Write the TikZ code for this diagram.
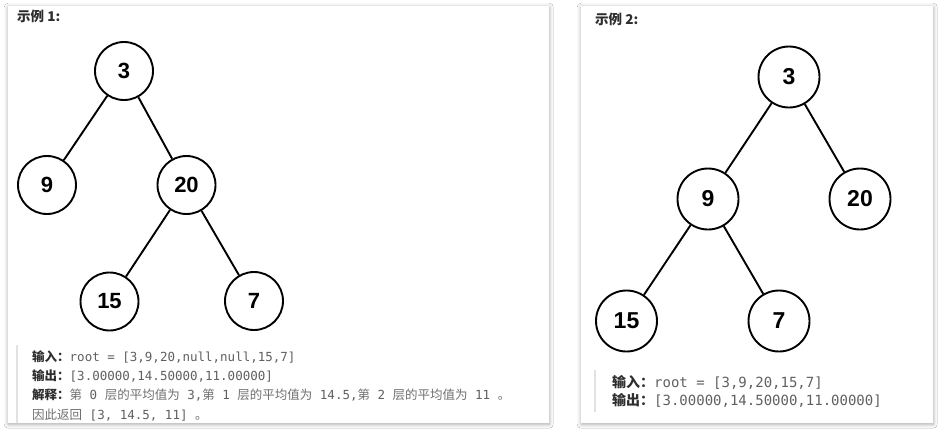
\documentclass[tikz,border=0pt]{standalone}
\usepackage{fontspec}
\setmainfont{Liberation Sans}
\newfontfamily\cjk{Noto Sans CJK SC}
\newfontfamily\mono{DejaVu Sans Mono}
\usetikzlibrary{shadows.blur}
\definecolor{codegray}{HTML}{606060}
\definecolor{txtgray}{HTML}{707070}
\definecolor{labdark}{HTML}{2E2E2E}
\definecolor{bargray}{HTML}{E2E2E2}
\newcommand{\mm}[1]{{\mono\color{codegray}#1}}
\begin{document}
\begin{tikzpicture}[x=1pt,y=-1pt,
  panel/.style={fill=white,draw=none,blur shadow={shadow xshift=0pt,shadow yshift=-1pt,shadow blur radius=4pt,shadow opacity=35}},
  tnodeL/.style={circle,draw=black,line width=1.9pt,minimum size=58pt,inner sep=0pt,font=\fontsize{22}{22}\selectfont\bfseries},
  tnodeR/.style={circle,draw=black,line width=1.9pt,minimum size=61pt,inner sep=0pt,font=\fontsize{23}{23}\selectfont\bfseries},
  tedge/.style={line width=1.9pt,draw=black},
  txtL/.style={anchor=base west,inner sep=0pt,font=\fontsize{12.5}{12.5}\selectfont},
  txtR/.style={anchor=base west,inner sep=0pt,font=\fontsize{14}{14}\selectfont},
  title/.style={anchor=base west,inner sep=0pt,text=labdark},
  bar/.style={draw=bargray,line width=2pt}
]
\useasboundingbox (0,0) rectangle (944,434);
\fill[white] (0,0) rectangle (944,434);
% panels
\node[panel,minimum width=541pt,minimum height=417pt,inner sep=0pt,anchor=north west] (P1) at (8,6) {};
\node[panel,minimum width=352pt,minimum height=417pt,inner sep=0pt,anchor=north west] (P2) at (581,6) {};
% titles
\node[title,font=\cjk\bfseries\fontsize{13.5}{13.5}\selectfont] (T1) at (17,21) {示例 1:};
\node[title,font=\cjk\bfseries\fontsize{13.5}{13.5}\selectfont] (T2) at (595,24) {示例 2:};
% left tree
\node[tnodeL] (L3) at (124,71) {3};
\node[tnodeL] (L9) at (47,185) {9};
\node[tnodeL] (L20) at (186.5,185) {20};
\node[tnodeL] (L15) at (109.5,301.5) {15};
\node[tnodeL] (L7) at (254,301) {7};
\draw[tedge] (L3) -- (L9);
\draw[tedge] (L3) -- (L20);
\draw[tedge] (L20) -- (L15);
\draw[tedge] (L20) -- (L7);
% right tree
\node[tnodeR] (R3) at (789,77) {3};
\node[tnodeR] (R9) at (708,199) {9};
\node[tnodeR] (R20) at (860,199) {20};
\node[tnodeR] (R15) at (626.5,321) {15};
\node[tnodeR] (R7) at (779,321) {7};
\draw[tedge] (R3) -- (R9);
\draw[tedge] (R3) -- (R20);
\draw[tedge] (R9) -- (R15);
\draw[tedge] (R9) -- (R7);
% left text
\coordinate (B1a) at (17,345);
\coordinate (B1b) at (17,423);
\draw[bar] (B1a) -- (B1b);
\node[txtL] (A1) at (32,361) {{\cjk\bfseries\color{labdark}输入：}\mm{root = [3,9,20,null,null,15,7]}};
\node[txtL] (A2) at (32,380.3) {{\cjk\bfseries\color{labdark}输出：}\mm{[3.00000,14.50000,11.00000]}};
\node[txtL] (A3) at (32,399.6) {{\cjk\bfseries\color{labdark}解释：}{\cjk\color{txtgray}第}\mm{\ 0\ }{\cjk\color{txtgray}层的平均值为}\mm{\ 3,}{\cjk\color{txtgray}第}\mm{\ 1\ }{\cjk\color{txtgray}层的平均值为}\mm{\ 14.5,}{\cjk\color{txtgray}第}\mm{\ 2\ }{\cjk\color{txtgray}层的平均值为}\mm{\ 11\ }{\cjk\color{txtgray}。}};
\node[txtL] (A4) at (32,419) {{\cjk\color{txtgray}因此返回}\mm{\ [3, 14.5, 11]\ }{\cjk\color{txtgray}。}};
% right text
\coordinate (B2a) at (595,370);
\coordinate (B2b) at (595,412);
\draw[bar] (B2a) -- (B2b);
\node[txtR] (C1) at (612,387) {{\cjk\bfseries\color{labdark}输入：}\mm{root = [3,9,20,15,7]}};
\node[txtR] (C2) at (612,405.5) {{\cjk\bfseries\color{labdark}输出：}\mm{[3.00000,14.50000,11.00000]}};
\end{tikzpicture}
\end{document}
